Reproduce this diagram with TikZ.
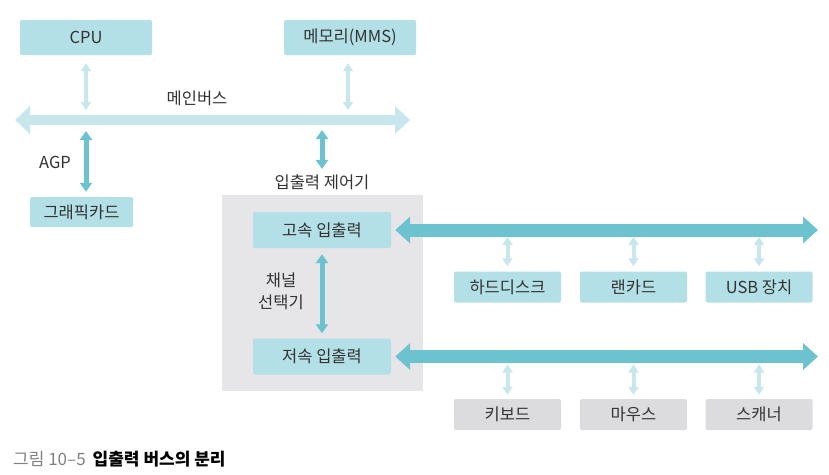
\documentclass[tikz,border=0pt]{standalone}
\usepackage{fontspec}
\setmainfont{Noto Sans CJK KR}
\usetikzlibrary{arrows.meta}
\definecolor{boxcyan}{HTML}{B3DFE6}
\definecolor{busdark}{HTML}{6CC3CF}
\definecolor{buslight}{HTML}{C8E7EC}
\definecolor{ctrlgray}{HTML}{E6E6E8}
\definecolor{devgray}{HTML}{DCDCDE}
\definecolor{txtgray}{HTML}{333333}

\begin{document}
\begin{tikzpicture}[x=1pt, y=-1pt,
    every node/.style={font=\fontsize{16.5}{19}\selectfont, text=txtgray},
    unit/.style={fill=boxcyan, rounded corners=2pt, inner sep=0pt},
    dev/.style={unit, minimum width=107pt, minimum height=31pt},
    bigbus/.style={line width=10pt, buslight, {Triangle[width=27pt,length=15pt]}-{Triangle[width=27pt,length=15pt]}},
    iobus/.style={line width=13pt, busdark, {Triangle[width=26pt,length=15pt]}-{Triangle[width=26pt,length=15pt]}},
    minor/.style={line width=4pt, buslight, {Triangle[width=10pt,length=8pt]}-{Triangle[width=10pt,length=8pt]}},
    major/.style={line width=5pt, busdark, {Triangle[width=12pt,length=9pt]}-{Triangle[width=12pt,length=9pt]}}]
    \useasboundingbox (0,0) rectangle (829,474);
    % controller frame
    \fill[ctrlgray] (222,195) rectangle (423,391);
    % top units
    \node[unit, minimum width=132pt, minimum height=35pt] (cpu) at (86,37.5) {CPU};
    \node[unit, minimum width=132pt, minimum height=35pt] (mem) at (350,37.5) {메모리(MMS)};
    \node[unit, minimum width=103pt, minimum height=30pt] (gfx) at (81.5,212) {그래픽카드};
    \node[unit, minimum width=138pt, minimum height=36pt] (fast) at (322,230) {고속 입출력};
    \node[unit, minimum width=138pt, minimum height=36pt] (slow) at (322,356.5) {저속 입출력};
    % devices
    \node[dev] (hdd) at (507.5,287) {하드디스크};
    \node[dev] (lan) at (633.5,287) {랜카드};
    \node[dev] (usb) at (759,287) {USB 장치};
    \node[dev, fill=devgray] (kbd) at (507.5,414.5) {키보드};
    \node[dev, fill=devgray] (mouse) at (633.5,414.5) {마우스};
    \node[dev, fill=devgray] (scan) at (759,414.5) {스캐너};
    % labels
    \node (mainlbl) at (197,98) {메인버스};
    \node (agp) at (55,162) {AGP};
    \node (ctrl) at (322,182) {입출력 제어기};
    \node[align=center, font=\fontsize{16.5}{22}\selectfont] (chan) at (281,291) {채널\\선택기};
    % buses
    \coordinate (mbL) at (15,120);
    \coordinate (mbR) at (410,120);
    \coordinate (hsR) at (818,230);
    \coordinate (lsR) at (818,356.5);
    \draw[bigbus] (mbL) -- (mbR);
    \draw[iobus] ([xshift=4pt]fast.east) -- (hsR);
    \draw[iobus] ([xshift=4pt]slow.east) -- (lsR);
    % links
    \draw[minor, shorten <=8pt, shorten >=10pt] (cpu.south) -- (cpu.south |- mbL);
    \draw[minor, shorten <=8pt, shorten >=10pt] ([xshift=-2pt]mem.south) -- ([xshift=-2pt]mem.south |- mbL);
    \draw[major, shorten <=11pt, shorten >=5pt] (cpu.south |- mbL) -- (cpu.south |- gfx.north);
    \draw[major, shorten <=10pt, shorten >=2pt] (ctrl.north |- mbL) -- (ctrl.north);
    \draw[major, shorten <=6pt, shorten >=5pt] (fast) -- (slow);
    \foreach \d in {hdd,lan,usb}
        \draw[minor, shorten <=7pt, shorten >=5pt] (\d.north |- hsR) -- (\d.north);
    \foreach \d in {kbd,mouse,scan}
        \draw[minor, shorten <=8pt, shorten >=4pt] (\d.north |- lsR) -- (\d.north);
    % caption
    \node[anchor=west, inner sep=0pt, font=\fontsize{17}{19}\selectfont] (cap) at (13,459) {{\color{gray}그림 10–5}\hspace{7pt}\textcolor{black}{\bfseries 입출력 버스의 분리}};
\end{tikzpicture}
\end{document}
